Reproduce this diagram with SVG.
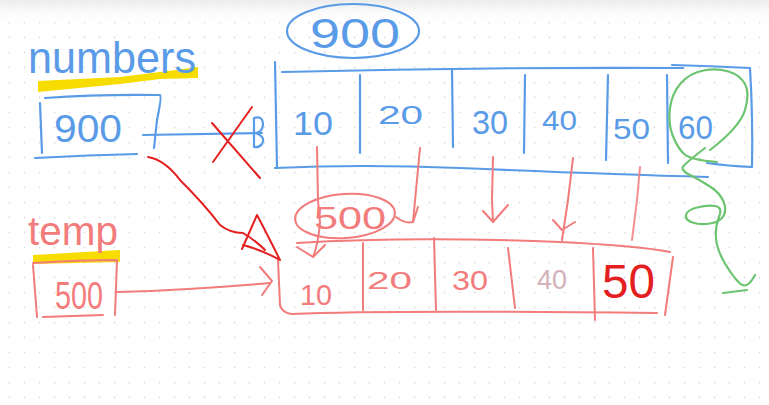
<svg xmlns="http://www.w3.org/2000/svg" width="769" height="405" viewBox="0 0 769 405">
<defs>
<pattern id="dots" x="2" y="0" width="15" height="15" patternUnits="userSpaceOnUse">
<circle cx="7.5" cy="7.5" r="0.9" fill="#dcdcdc"/>
</pattern>
<linearGradient id="topshade" x1="0" y1="0" x2="0" y2="1">
<stop offset="0" stop-color="#ececec"/>
<stop offset="1" stop-color="#ffffff" stop-opacity="0"/>
</linearGradient>
<style>
.b{fill:none;stroke:#5a9be8;stroke-width:2.2;stroke-linecap:round;stroke-linejoin:round}
.r{fill:none;stroke:#f27b7b;stroke-width:2;stroke-linecap:round;stroke-linejoin:round}
.rr{fill:none;stroke:#e3201f;stroke-width:2;stroke-linecap:round;stroke-linejoin:round}
.g{fill:none;stroke:#6cc470;stroke-width:2.2;stroke-linecap:round;stroke-linejoin:round}
.hl{fill:#f7dc00}
text{font-family:"Liberation Sans",Arial,sans-serif}
.tb{fill:#5a9be8}
.tr{fill:#f27b7b}
.trr{fill:#e3201f}
</style>
</defs>
<rect width="769" height="405" fill="#ffffff"/>
<rect width="769" height="405" fill="url(#dots)"/>
<rect width="769" height="26" fill="url(#topshade)"/>

<g id="numbers-label">
<path class="hl" d="M38,81 L120,77 L160,72 L198,67 L198,78 L160,79 L120,84 L38,92 Z"/>
<text class="tb" x="28" y="73" font-size="44" textLength="168" lengthAdjust="spacingAndGlyphs">numbers</text>
</g>

<g id="numbers-box">
<path class="b" d="M45,98 Q100,94 160,95 Q162,96 157,120 L154,148"/>
<path class="b" d="M40,103 L42,153"/>
<path class="b" d="M35,158 Q90,155 137,154"/>
<text class="tb" x="54" y="142" font-size="38" textLength="68" lengthAdjust="spacingAndGlyphs">900</text>
</g>

<g id="temp-label">
<path class="hl" d="M33,255 L120,250 L120,262 L33,264 Z"/>
<text class="tr" x="28" y="245" font-size="40" textLength="90" lengthAdjust="spacingAndGlyphs">temp</text>
</g>

<g id="temp-box">
<path class="r" d="M33,263 Q80,260 117,260 Q116,290 115,315"/>
<path class="r" d="M33,265 L37,317"/>
<path class="r" d="M43,317 L103,315"/>
<text class="tr" x="55" y="309" font-size="38" textLength="48" lengthAdjust="spacingAndGlyphs">500</text>
</g>

<g id="array-900">
<ellipse class="b" cx="353" cy="31" rx="66" ry="27"/>
<text class="tb" x="310" y="48" font-size="42" textLength="90" lengthAdjust="spacingAndGlyphs">900</text>
<path class="b" d="M275,62 L277,168"/>
<path class="b" d="M282,72 Q480,67 683,68"/>
<path class="b" d="M275,168 Q360,164 460,168 Q600,174 708,177"/>
<path class="b" d="M360,75 L360,153"/>
<path class="b" d="M452,70 L453,147"/>
<path class="b" d="M525,75 L524,153"/>
<path class="b" d="M608,75 L606,160"/>
<path class="b" d="M667,75 L668,163"/>
<path class="b" d="M672,65 Q710,66 750,68 Q753,118 752,167 Q728,166 707,163"/>
<text class="tb" x="293" y="135" font-size="34" textLength="40" lengthAdjust="spacingAndGlyphs">10</text>
<text class="tb" x="378" y="124" font-size="26" textLength="45" lengthAdjust="spacingAndGlyphs">20</text>
<text class="tb" x="472" y="134" font-size="34" textLength="36" lengthAdjust="spacingAndGlyphs">30</text>
<text class="tb" x="542" y="130" font-size="28" textLength="35" lengthAdjust="spacingAndGlyphs">40</text>
<text class="tb" x="613" y="139" font-size="30" textLength="37" lengthAdjust="spacingAndGlyphs">50</text>
<text class="tb" x="678" y="139" font-size="34" textLength="35" lengthAdjust="spacingAndGlyphs">60</text>
</g>

<g id="array-500">
<ellipse class="r" cx="345" cy="216" rx="50" ry="22" transform="rotate(-4 345 216)"/>
<text class="tr" x="314" y="229" font-size="32" textLength="72" lengthAdjust="spacingAndGlyphs">500</text>
<path class="r" d="M297,243 Q413,236 560,242 Q640,246 670,252"/>
<path class="r" d="M278,260 L280,305 Q282,313 292,314 Q380,310 657,313"/>
<path class="r" d="M673,257 L665,315"/>
<path class="r" d="M363,243 L363,310"/>
<path class="r" d="M434,238 L436,310"/>
<path class="r" d="M508,248 L515,308"/>
<path class="r" d="M593,248 L595,320"/>
<text class="tr" x="300" y="305" font-size="30" textLength="32" lengthAdjust="spacingAndGlyphs">10</text>
<text class="tr" x="367" y="289" font-size="24" textLength="45" lengthAdjust="spacingAndGlyphs">20</text>
<text class="tr" x="452" y="290" font-size="28" textLength="36" lengthAdjust="spacingAndGlyphs">30</text>
<text x="537" y="289" font-size="28" fill="#c9a0a8" opacity="0.8" textLength="30" lengthAdjust="spacingAndGlyphs">40</text>
<text class="trr" x="602" y="298" font-size="48" textLength="53" lengthAdjust="spacingAndGlyphs">50</text>
</g>

<g id="connectors">
<!-- numbers -> array 900 -->
<path class="b" d="M143,135 Q200,134 262,133"/>
<path class="b" d="M254,147 L254,118 Q263,115 263,125 Q262,132 256,133 Q266,137 262,144 Q259,148 254,147"/>
<!-- red X -->
<path class="rr" d="M212,123 L260,178"/>
<path class="rr" d="M252,107 L213,162"/>
<!-- numbers -> array 500 -->
<path class="rr" d="M148,157 Q165,160 180,180 Q205,205 220,225 Q230,233 243,233 Q255,240 265,250"/>
<path class="rr" d="M242,249 L257,215 Q265,230 280,260 Q262,250 243,245"/>
<!-- temp -> array 500 -->
<path class="r" d="M117,292 Q190,290 270,283"/>
<path class="r" d="M260,267 L272,281 L262,295"/>
<!-- copy arrows -->
<path class="r" d="M317,147 L318,200 L320,223 Q318,245 313,257"/>
<path class="r" d="M297,247 L313,257 L325,245"/>
<path class="r" d="M420,148 L413,222"/>
<path class="r" d="M396,217 Q405,224 413,222 L418,207"/>
<path class="r" d="M493,157 L492,200 L493,222"/>
<path class="r" d="M483,211 L493,222 L508,205"/>
<path class="r" d="M573,158 L568,200 L562,240"/>
<path class="r" d="M553,220 L562,230 L575,222"/>
<path class="r" d="M640,167 L637,200 L632,240" opacity="0.85"/>
<!-- green loop -->
<path class="g" d="M710,150 Q740,127 745,110 Q750,93 745,84 Q740,75 728.5,71.5 Q717,68 703.5,70.5 Q690,73 681,83 Q672,93 670,108 Q668,123 672.5,135 Q677,147 683.5,153.5 Q690,160 717,162"/>
<path class="g" d="M705,148 Q687,162 683.5,166 Q680,170 690,175 Q700,180 710,186.5 Q720,193 723.5,201.5 Q727,210 723.5,216 Q720,222 710,223.5 Q700,225 692.5,222.5 Q685,220 686,215 Q687,210 697,207.5 Q707,205 715,206 Q723,207 719,217 Q715,227 716,238.5 Q717,250 725,263.5 Q733,277 740,283.5 Q747,290 755,275"/>
<path class="g" d="M723,293 L747,290"/>
</g>
</svg>
